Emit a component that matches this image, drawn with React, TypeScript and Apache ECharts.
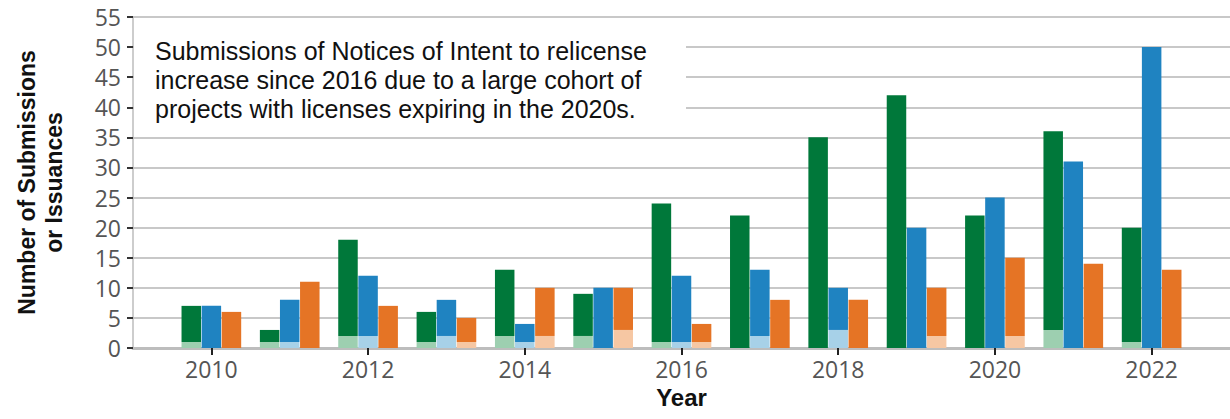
import React, { useEffect, useRef } from "react";
import * as echarts from "echarts";

// Axis categories (2009 and 2023 are empty padding slots at the axis ends)
const years = ["2009", "2010", "2011", "2012", "2013", "2014", "2015", "2016", "2017", "2018", "2019", "2020", "2021", "2022", "2023"];

// Totals per year (2010..2022)
const greenTotal = [7, 3, 18, 6, 13, 9, 24, 22, 35, 42, 22, 36, 20];
const blueTotal = [7, 8, 12, 8, 4, 10, 12, 13, 10, 20, 25, 31, 50];
const orangeTotal = [6, 11, 7, 5, 10, 10, 4, 8, 8, 10, 15, 14, 13];

// Light-shaded bottom portions (2010..2022)
const greenLight = [1, 1, 2, 1, 2, 2, 1, 0, 0, 0, 0, 3, 1];
const blueLight = [0, 1, 2, 2, 1, 0, 1, 2, 3, 0, 0, 0, 0];
const orangeLight = [0, 0, 0, 1, 2, 3, 1, 0, 0, 2, 2, 0, 0];

const noteLines = [
  "Submissions of Notices of Intent to relicense",
  "increase since 2016 due to a large cohort of",
  "projects with licenses expiring in the 2020s.",
];

const FONT = "'Open Sans', 'Noto Sans', sans-serif";
const TITLE_FONT = "'Liberation Sans', Arial, sans-serif";

function pad(arr: (number | null)[]) {
  return [null, ...arr, null];
}

function makeSeries(stack: string, light: number[], total: number[], lightColor: string, darkColor: string) {
  const common = {
    type: "bar",
    stack,
    barWidth: 19.5,
    barGap: "3%",
  };
  return [
    {
      ...common,
      name: stack + "-light",
      data: pad(light.map((v) => (v === 0 ? null : v))),
      itemStyle: { color: lightColor },
    },
    {
      ...common,
      name: stack + "-dark",
      data: pad(total.map((t, i) => t - light[i])),
      itemStyle: { color: darkColor },
    },
  ];
}

export default function App() {
  const ref = useRef<HTMLDivElement>(null);
  useEffect(() => {
    if (!ref.current) return;
    const chart = echarts.init(ref.current, undefined, { renderer: "svg" });
    const showYear = (idx: number) => idx >= 1 && idx <= 13 && (Number(years[idx]) % 2 === 0);
    chart.setOption({
      animation: false,
      grid: { left: 133, right: 0, top: 17, bottom: 71, containLabel: false, outerBoundsMode: "none" },
      xAxis: {
        type: "category",
        data: years,
        boundaryGap: false,
        name: "Year",
        nameLocation: "middle",
        nameGap: 37,
        nameTextStyle: { fontFamily: TITLE_FONT, fontSize: 24, fontWeight: "bold", color: "#111" },
        axisLine: { lineStyle: { color: "#bdbdbd", width: 3 } },
        axisTick: {
          show: true,
          length: 7,
          interval: (idx: number) => showYear(idx),
          lineStyle: { color: "#222", width: 2 },
        },
        axisLabel: {
          interval: (idx: number) => showYear(idx),
          fontFamily: FONT,
          fontSize: 23,
          color: "#555",
          margin: 9,
        },
        splitLine: { show: false },
      },
      yAxis: {
        type: "value",
        min: 0,
        max: 55,
        interval: 5,
        name: "Number of Submissions\nor Issuances",
        nameLocation: "middle",
        nameGap: 66,
        nameRotate: 90,
        nameTextStyle: { fontFamily: TITLE_FONT, fontSize: 23, fontWeight: "bold", color: "#111", lineHeight: 27, align: "center" },
        axisLine: { show: true, lineStyle: { color: "#bdbdbd", width: 1.5 } },
        axisTick: { show: true, length: 6, lineStyle: { color: "#333", width: 2 } },
        axisLabel: { fontFamily: FONT, fontSize: 23, color: "#555", margin: 12 },
        splitLine: { show: true, lineStyle: { color: "#c8c8c8", width: 2 } },
      },
      series: [
        ...makeSeries("g", greenLight, greenTotal, "#9dcfb0", "#00783a"),
        ...makeSeries("b", blueLight, blueTotal, "#a7d1e8", "#1f83c1"),
        ...makeSeries("o", orangeLight, orangeTotal, "#f6c7a3", "#e57425"),
      ],
      graphic: [
        {
          type: "rect",
          left: 134,
          top: 21,
          z: 100,
          shape: { width: 552, height: 106 },
          style: { fill: "#ffffff" },
        },
        ...noteLines.map((line, i) => ({
          type: "text",
          left: 155,
          top: 37 + i * 29,
          z: 101,
          style: {
            text: line,
            fontFamily: TITLE_FONT,
            fontSize: 25,
            lineHeight: 27,
            fill: "#111",
          },
        })),
      ],
    });
    return () => chart.dispose();
  }, []);
  return <div ref={ref} style={{ width: 1230, height: 419, position: "absolute", left: 0, top: 0 }} />;
}
